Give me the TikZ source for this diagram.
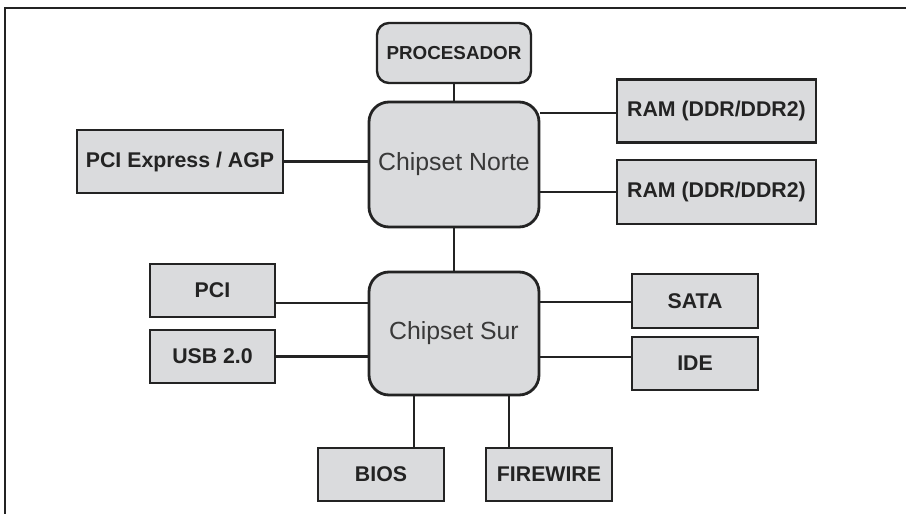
\documentclass[tikz,border=0pt]{standalone}
\usepackage{fontspec}
\setmainfont{Liberation Sans}
\definecolor{boxfill}{RGB}{218,219,221}
\definecolor{edge}{RGB}{35,35,35}
\begin{document}
\begin{tikzpicture}[x=1pt,y=-1pt,
  box/.style={draw=edge, fill=boxfill, line width=2.4pt, inner sep=0pt, text=edge,
    font=\fontsize{21.3}{25}\selectfont\bfseries},
  rbox/.style={box, rounded corners=12pt},
  chip/.style={draw=edge, fill=boxfill, line width=2.8pt, rounded corners=20pt, inner sep=0pt,
    text=edge!90, minimum width=170pt, font=\fontsize{24.8}{28}\selectfont},
  link/.style={draw=edge, line width=2.5pt}]
\useasboundingbox (0,0) rectangle (906,514);
\draw[edge, line width=2pt] (4.5,514) -- (4.5,7.5) -- (906,7.5);

\node[rbox, minimum width=154pt, minimum height=60pt, font=\fontsize{18.8}{22}\selectfont\bfseries] (proc) at (454,53) {PROCESADOR};
\node[chip, minimum height=125pt] (norte) at (454,164.5) {Chipset Norte};
\node[chip, minimum height=123pt] (sur) at (454,333.5) {Chipset Sur};

\node[box, minimum width=206pt, minimum height=63pt] (pcie) at (180,161.5) {PCI Express / AGP};
\node[box, minimum width=199pt, minimum height=63pt] (ram1) at (716.5,111) {RAM (DDR/DDR2)};
\node[box, minimum width=199pt, minimum height=64pt] (ram2) at (716.5,192) {RAM (DDR/DDR2)};

\node[box, minimum width=125pt, minimum height=53pt] (pci) at (212.5,290.5) {PCI};
\node[box, minimum width=125pt, minimum height=53pt] (usb) at (212.5,356.5) {USB 2.0};
\node[box, minimum width=126pt, minimum height=54pt] (sata) at (695,301) {SATA};
\node[box, minimum width=126pt, minimum height=53pt] (ide) at (695,363.5) {IDE};
\node[box, minimum width=126pt, minimum height=53pt] (bios) at (381,474.5) {BIOS};
\node[box, minimum width=126pt, minimum height=53pt] (fire) at (549,474.5) {FIREWIRE};

\coordinate (bx) at (414,0);
\coordinate (fx) at (509,0);

\draw[link] (proc.south) -- (norte.north);
\draw[link] (pcie.east) -- (pcie.east -| norte.west);
\draw[link] ([yshift=-2pt]ram1.west -| norte.east) -- ([yshift=-2pt]ram1.west);
\draw[link] (ram2.west -| norte.east) -- (ram2.west);
\draw[link] (norte.south) -- (sur.north);
\draw[link] ([yshift=-12.5pt]pci.east) -- ([yshift=-12.5pt]pci.east -| sur.west);
\draw[link] (usb.east) -- (usb.east -| sur.west);
\draw[link] ([yshift=-1pt]sata.west -| sur.east) -- ([yshift=-1pt]sata.west);
\draw[link] ([yshift=6.5pt]ide.west -| sur.east) -- ([yshift=6.5pt]ide.west);
\draw[link] (bios.north -| bx) -- (sur.south -| bx);
\draw[link] (fire.north -| fx) -- (sur.south -| fx);
\end{tikzpicture}
\end{document}
